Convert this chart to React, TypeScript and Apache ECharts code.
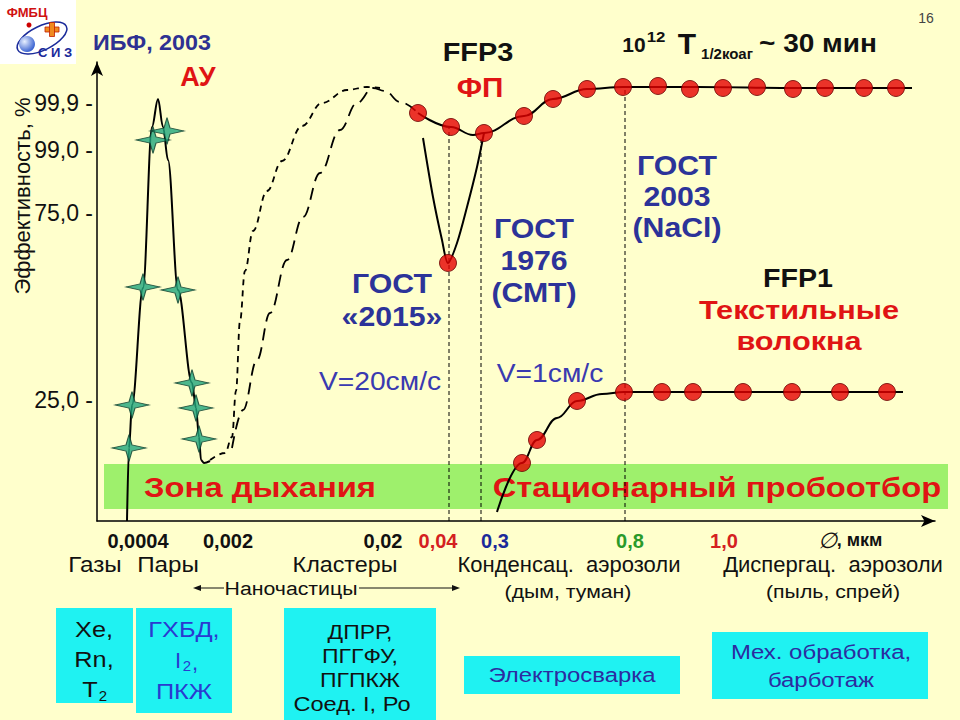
import React, { useEffect, useRef } from 'react';
import * as echarts from 'echarts';

// Schematic units: x = position along the particle-size axis, y = position along the (probit) efficiency axis
const xTickPos = [41, 131, 286, 341, 398, 533, 627];
const xTickLabels = ['0,0004', '0,002', '0,02', '0,04', '0,3', '0,8', '1,0'];
const xTickTones = ['k', 'k', 'k', 'r', 'b', 'g', 'r'];

const yTickPos = [121, 308, 371, 418];
const yTickLabels = ['25,0', '75,0', '99,0', '99,9'];

// АУ (aerosol) bell curve and its star markers
const auCurve = [[30, 0], [32, 73], [35, 116], [46, 233], [55, 394], [61, 422], [66, 394], [71, 361], [81, 231], [95, 138], [99, 113], [102, 84], [104, 61], [107, 58], [113, 60]];
const auStars = [[32, 73], [35, 116], [46, 234], [56, 381], [70, 390], [81, 231], [95, 138], [99, 113], [102, 82]];

// dashed transition curves
const dashShort = [[113, 61], [128, 68], [135, 84], [139, 130], [143, 200], [148, 250], [156, 290], [170, 330], [185, 360], [205, 395], [225, 418], [250, 431], [270, 434], [283, 433]];
const dashLong = [[135, 73], [146, 111], [160, 161], [173, 208], [190, 261], [206, 304], [223, 348], [243, 391], [260, 418], [276, 433], [288, 430], [303, 419], [321, 408]];

// FFP3 (ФП) curve and measured points
const ffp3Curve = [[321, 408], [354, 394], [376, 386], [387, 388], [427, 405], [456, 422], [490, 432], [526, 434], [600, 434], [700, 433], [815, 433]];
const ffp3Dots = [[321, 408], [354, 394], [387, 388], [427, 405], [456, 422], [490, 432], [526, 434], [561, 435], [593, 432], [626, 433], [660, 434], [696, 432], [728, 433], [767, 433], [799, 433]];

// ГОСТ «2015» dip (V = 20 см/с)
const dipCurve = [[326, 383], [336, 324], [345, 281], [351, 258], [360, 278], [370, 314], [380, 354], [387, 388]];
const dipDots = [[351, 258]];

// FFP1 (textile fibres) curve and points
const ffp1Curve = [[400, 9], [425, 58], [440, 81], [460, 103], [480, 120], [505, 127], [527, 129], [806, 129]];
const ffp1Dots = [[425, 58], [440, 81], [480, 120], [527, 129], [565, 129], [596, 129], [646, 129], [695, 129], [743, 129], [790, 129]];

// vertical guide lines at 0,04 / 0,3 / 0,8
const guideX = [352, 384, 528];
const guideTop = [394, 383, 433];

const FONT = '"Liberation Sans", Arial, sans-serif';
const BLUE = '#2c3399';
const RED = '#e01414';

function txt(x: number, y: number, text: string, size: number, fill: string, bold = false, sx = 1, extra: any = {}) {
  return {
    type: 'text',
    x,
    y,
    scaleX: sx,
    style: {
      text,
      fill,
      fontSize: size,
      fontWeight: bold ? 'bold' : 'normal',
      fontFamily: FONT,
      align: 'center',
      verticalAlign: 'middle',
      ...extra,
    },
  };
}

export default function App() {
  const ref = useRef<HTMLDivElement>(null);
  useEffect(() => {
    document.body.style.margin = '0';
    const chart = echarts.init(ref.current!, null, { renderer: 'svg' });

    const starPath = 'path://M0,-13 L3,-3 L17,0 L3,3 L0,13 L-3,3 L-17,0 L-3,-3 Z';
    const dotStyle = { color: '#e60000', borderColor: '#6a0000', borderWidth: 1 };

    const series: any[] = [];
    guideX.forEach((gx, i) => {
      series.push({
        type: 'line',
        data: [[gx, 0], [gx, guideTop[i]]],
        symbol: 'none',
        lineStyle: { color: '#000', width: 1, type: [4, 3] },
        z: 1,
      });
    });
    series.push(
      { type: 'line', data: auCurve, smooth: 0.35, smoothMonotone: 'x', symbol: 'none', lineStyle: { color: '#000', width: 2 } },
      { type: 'line', data: dashShort, smooth: 0.4, smoothMonotone: 'x', symbol: 'none', lineStyle: { color: '#000', width: 1.8, type: [6, 5] } },
      { type: 'line', data: dashLong, smooth: 0.4, smoothMonotone: 'x', symbol: 'none', lineStyle: { color: '#000', width: 1.8, type: [12, 7] } },
      { type: 'line', data: ffp3Curve, smooth: 0.4, smoothMonotone: 'x', symbol: 'none', lineStyle: { color: '#000', width: 2 } },
      { type: 'line', data: dipCurve, smooth: 0.3, symbol: 'none', lineStyle: { color: '#000', width: 2 } },
      { type: 'line', data: ffp1Curve, smooth: 0.4, smoothMonotone: 'x', symbol: 'none', lineStyle: { color: '#000', width: 2 } },
      { type: 'scatter', data: auStars, symbol: starPath, symbolSize: [34, 27], itemStyle: { color: '#1fa57c', borderColor: '#0b3b2b', borderWidth: 1 }, z: 5 },
      { type: 'scatter', data: ffp3Dots, symbolSize: 17, itemStyle: dotStyle, z: 5 },
      { type: 'scatter', data: dipDots, symbolSize: 17, itemStyle: dotStyle, z: 5 },
      { type: 'scatter', data: ffp1Dots, symbolSize: 17, itemStyle: dotStyle, z: 5 },
    );

    const toneColor: Record<string, string> = { k: '#111', r: '#d42020', b: '#1c2a9a', g: '#2a9a2a' };
    const rich: any = {};
    Object.keys(toneColor).forEach((k) => {
      rich[k] = { color: toneColor[k], fontWeight: 'bold', fontSize: 20, fontFamily: FONT };
    });

    const arrowY = 588;
    const S = 1.12;
    const graphic: any[] = [
      // green breathing-zone band
      { type: 'rect', shape: { x: 104, y: 464, width: 844, height: 45 }, style: { fill: '#9ef06c' }, z: -1 },
      txt(260, 487, 'Зона дыхания', 28, RED, true, 1.17),
      txt(717, 487, 'Стационарный пробоотбор', 28, RED, true, 1.17),
      // logo
      { type: 'rect', shape: { x: 0, y: 0, width: 76, height: 64 }, style: { fill: '#ffffff' } },
      { type: 'ellipse', x: 42, y: 38, rotation: 0.45, shape: { cx: 0, cy: 0, rx: 27, ry: 12 }, style: { fill: 'none', stroke: '#1a2a9a', lineWidth: 1.5 } },
      { type: 'circle', shape: { cx: 29, cy: 25, r: 2.5 }, style: { fill: '#cc0000' } },
      { type: 'rect', shape: { x: 45, y: 27, width: 14, height: 5 }, style: { fill: '#f08a20', stroke: '#c02000', lineWidth: 0.8 } },
      { type: 'rect', shape: { x: 49.5, y: 22.5, width: 5, height: 14 }, style: { fill: '#f08a20', stroke: '#c02000', lineWidth: 0.8 } },
      {
        type: 'circle', shape: { cx: 27, cy: 44, r: 8 },
        style: { fill: new echarts.graphic.RadialGradient(0.35, 0.35, 0.8, [{ offset: 0, color: '#e8f0ff' }, { offset: 1, color: '#1a48c8' }]) },
      },
      txt(27, 12, 'ФМБЦ', 13, '#d01010', true),
      txt(55, 52, 'С И З', 13, '#1a2a9a', true),
      txt(926, 18, '16', 14, '#444'),
      // titles and annotations
      txt(152, 42, 'ИБФ, 2003', 22, '#2e3192', true, 1.06),
      txt(198, 77, 'АУ', 27, RED, true),
      txt(478, 52, 'FFP3', 26, '#111', true, 1.11),
      txt(480, 87, 'ФП', 27, RED, true, 1.1),
      txt(634, 44, '10', 21, '#111', true),
      txt(656, 37, '12', 14, '#111', true, 1.2),
      txt(687, 43, 'T', 30, '#111', true),
      txt(727, 53, '1/2коаг', 15, '#111', true),
      txt(818, 44, '~ 30 мин', 25, '#111', true, 1.12),
      txt(677, 196, 'ГОСТ\n2003\n(NaCl)', 28, BLUE, true, 1.08, { lineHeight: 31 }),
      txt(534, 260, 'ГОСТ\n1976\n(СМТ)', 28, BLUE, true, 1.08, { lineHeight: 32 }),
      txt(392, 300, 'ГОСТ\n«2015»', 28, BLUE, true, 1.08, { lineHeight: 33 }),
      txt(380, 382, 'V=20см/с', 25, '#3a3ab0', false, 1.13),
      txt(550, 374, 'V=1см/с', 25, '#3a3ab0', false, 1.13),
      txt(798, 278, 'FFP1', 26, '#111', true, 1.1),
      txt(799, 325, 'Текстильные\nволокна', 26, RED, true, 1.18, { lineHeight: 31 }),
      // y-axis title
      { ...txt(22, 196, 'Эффективность, %', 22, '#111'), rotation: Math.PI / 2 },
      // x unit
      {
        type: 'text', x: 850, y: 540,
        style: {
          text: '{i|∅}{u|, мкм}', align: 'center', verticalAlign: 'middle',
          rich: { i: { fontSize: 22, fontFamily: FONT, fontStyle: 'italic', fill: '#111' }, u: { fontSize: 18, fontWeight: 'bold', fontFamily: FONT, fill: '#111' } },
        },
      },
      // class row
      txt(95, 564, 'Газы', 22, '#111', false, 1.1),
      txt(168, 564, 'Пары', 22, '#111', false, 1.1),
      txt(345, 564, 'Кластеры', 22, '#111', false, 1.06),
      txt(569, 564, 'Конденсац.  аэрозоли', 22, '#111'),
      txt(833, 564, 'Диспергац.  аэрозоли', 22, '#111'),
      txt(568, 591, '(дым, туман)', 19, '#111', false, S),
      txt(833, 591, '(пыль, спрей)', 19, '#111', false, S),
      txt(291, 588, 'Наночастицы', 19, '#111', false, S),
      { type: 'line', shape: { x1: 196, y1: arrowY, x2: 224, y2: arrowY }, style: { stroke: '#111', lineWidth: 1 } },
      { type: 'polygon', shape: { points: [[193, arrowY], [201, arrowY - 3], [201, arrowY + 3]] }, style: { fill: '#111' } },
      { type: 'line', shape: { x1: 359, y1: arrowY, x2: 456, y2: arrowY }, style: { stroke: '#111', lineWidth: 1 } },
      { type: 'polygon', shape: { points: [[460, arrowY], [452, arrowY - 3], [452, arrowY + 3]] }, style: { fill: '#111' } },
      // cyan boxes
      { type: 'rect', shape: { x: 56, y: 608, width: 77, height: 95 }, style: { fill: '#1ff2f2' } },
      txt(94, 630, 'Xe,', 22, '#111', false, 1.15),
      txt(94, 660, 'Rn,', 22, '#111', false, 1.15),
      txt(90, 690, 'T', 22, '#111', false, 1.15),
      txt(103, 695, '2', 15, '#111'),
      { type: 'rect', shape: { x: 136, y: 608, width: 96, height: 105 }, style: { fill: '#1ff2f2' } },
      txt(184, 630, 'ГХБД,', 22, '#2a3ad0', false, 1.15),
      txt(178, 660, 'I', 22, '#2a3ad0'),
      txt(187, 665, '2', 15, '#2a3ad0'),
      txt(195, 662, ',', 22, '#2a3ad0'),
      txt(184, 692, 'ПКЖ', 22, '#2a3ad0', false, 1.15),
      { type: 'rect', shape: { x: 284, y: 608, width: 152, height: 112 }, style: { fill: '#1ff2f2' } },
      txt(360, 632, 'ДПРР,', 20, '#111', false, 1.15),
      txt(360, 656, 'ПГГФУ,', 20, '#111', false, 1.15),
      txt(360, 680, 'ПГПКЖ', 20, '#111', false, 1.15),
      txt(352, 704, 'Соед. I, Ро', 20, '#111', false, 1.18),
      { type: 'rect', shape: { x: 464, y: 656, width: 216, height: 38 }, style: { fill: '#1ff2f2' } },
      txt(572, 675, 'Электросварка', 21, '#2c2ca0', false, 1.14),
      { type: 'rect', shape: { x: 712, y: 632, width: 216, height: 67 }, style: { fill: '#1ff2f2' } },
      txt(821, 666, 'Мех. обработка,\nбарботаж', 21, '#2c2ca0', false, 1.14, { lineHeight: 28 }),
    ];

    chart.setOption({
      animation: false,
      backgroundColor: '#ffffcc',
      grid: { left: 97, top: 62, width: 838, height: 459, containLabel: false },
      xAxis: {
        type: 'value', min: 0, max: 838,
        splitLine: { show: false },
        axisTick: { show: false },
        axisLine: { lineStyle: { color: '#000', width: 1.5 }, symbol: ['none', 'arrow'], symbolSize: [9, 14] },
        axisLabel: {
          customValues: xTickPos,
          margin: 10,
          formatter: (v: number) => {
            const i = xTickPos.indexOf(v);
            return i < 0 ? '' : `{${xTickTones[i]}|${xTickLabels[i]}}`;
          },
          rich,
        },
      },
      yAxis: {
        type: 'value', min: 0, max: 459,
        splitLine: { show: false },
        axisTick: { show: false },
        axisLine: { show: true, lineStyle: { color: '#000', width: 1.5 }, symbol: ['none', 'arrow'], symbolSize: [9, 14] },
        axisLabel: {
          customValues: yTickPos,
          margin: 4,
          fontSize: 23,
          color: '#111',
          fontFamily: FONT,
          formatter: (v: number) => {
            const i = yTickPos.indexOf(v);
            return i < 0 ? '' : `${yTickLabels[i]} -`;
          },
        },
      },
      graphic,
      series,
    });
    return () => chart.dispose();
  }, []);
  return <div ref={ref} style={{ width: 960, height: 720 }} />;
}
